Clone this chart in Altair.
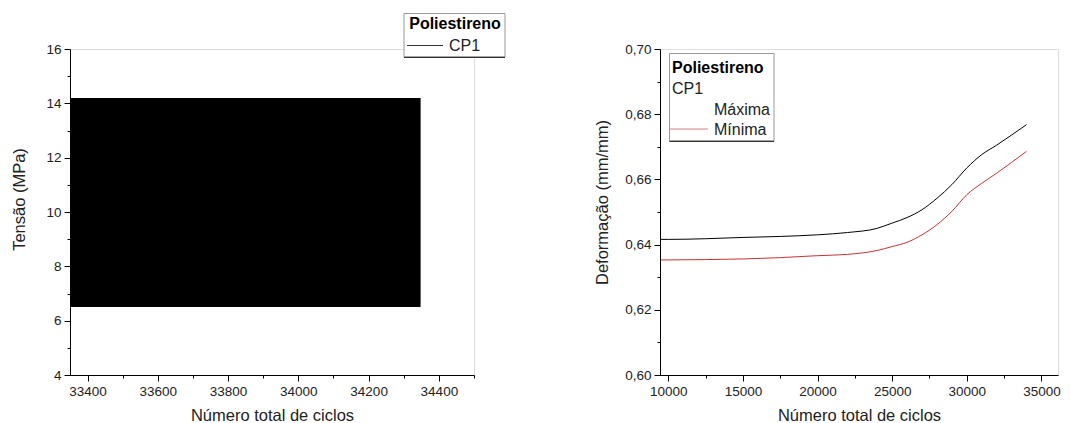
import altair as alt
import pandas as pd

# ---------- data ----------
# Left panel: dense oscillating stress signal, drawn as its envelope band
band_cycle_start = [33350]
band_cycle_end = [34348]
band_tension_min = [6.5]
band_tension_max = [14.2]

# Right panel: strain envelope vs cycles
cycles = [9500, 10000, 12500, 15000, 17500, 20000, 22000, 24000, 25000, 26000,
          27000, 28000, 29000, 30000, 31000, 32000, 33000, 34000]
def_max = [0.6416, 0.6416, 0.6418, 0.6422, 0.6425, 0.6430, 0.6437, 0.6450, 0.6466, 0.6483,
           0.6507, 0.6542, 0.6584, 0.6635, 0.6676, 0.6705, 0.6736, 0.6768]
def_min = [0.6353, 0.6353, 0.6354, 0.6356, 0.6360, 0.6366, 0.6370, 0.6382, 0.6394, 0.6407,
           0.6430, 0.6461, 0.6502, 0.6553, 0.6588, 0.6619, 0.6652, 0.6686]

left_x_ticks = list(range(33400, 34501, 100))
left_y_ticks = list(range(4, 17, 1))
right_x_ticks = list(range(10000, 35001, 2500))
right_y_ticks = [round(0.60 + 0.01 * i, 2) for i in range(11)]

FONT = "Liberation Sans"
TXT = "#222222"

band_df = pd.DataFrame({"start": band_cycle_start, "end": band_cycle_end,
                        "lo": band_tension_min, "hi": band_tension_max})
lines_df = pd.DataFrame({
    "ciclos": cycles * 2,
    "def": def_max + def_min,
    "serie": ["Máxima"] * len(cycles) + ["Mínima"] * len(cycles),
})

W1, W2, H = 404, 398, 326


def axis(values, test, title, lbl_expr, tx, ty, orient_y=False):
    kw = dict(
        values=values,
        title=title,
        grid=False,
        domainColor="black",
        tickColor="black",
        tickSize={"condition": {"test": test, "value": 6}, "value": 3},
        labelExpr=lbl_expr,
        labelFont=FONT, labelFontSize=13.5, labelColor=TXT,
        titleFont=FONT, titleFontSize=16.5, titleFontWeight="normal", titleColor=TXT,
        labelPadding=3,
        titleX=tx, titleY=ty,
        titleAlign="center",
        titleBaseline="middle",
    )
    if orient_y:
        kw["titleAngle"] = 270
    return alt.Axis(**kw)


# ---------- left panel ----------
lx = alt.X("start:Q", scale=alt.Scale(domain=[33350, 34500], nice=False, zero=False),
           axis=axis(left_x_ticks, "datum.value % 200 === 0", "Número total de ciclos",
                     "datum.value % 200 === 0 ? format(datum.value, 'd') : ''", W1 / 2, 40))
ly = alt.Y("lo:Q", scale=alt.Scale(domain=[4, 16], nice=False, zero=False),
           axis=axis(left_y_ticks, "datum.value % 2 === 0", "Tensão (MPa)",
                     "datum.value % 2 === 0 ? format(datum.value, 'd') : ''", -51, 150, True))

band = alt.Chart(band_df).mark_rect(color="black").encode(
    x=lx, x2="end:Q", y=ly, y2="hi:Q")

legL_box = alt.Chart(band_df).mark_rect(fill="white", stroke="#999999", strokeWidth=1).encode(
    x=alt.value(334), x2=alt.value(435), y=alt.value(-35.5), y2=alt.value(8))
legL_bottom = alt.Chart(band_df).mark_rule(color="#333333", strokeWidth=1.2).encode(
    x=alt.value(334), x2=alt.value(435), y=alt.value(8.3))
legL_title = alt.Chart(band_df).mark_text(
    text="Poliestireno", font=FONT, fontSize=16, fontWeight="bold", color="black",
    align="center", baseline="alphabetic").encode(x=alt.value(385), y=alt.value(-20))
legL_sym = alt.Chart(band_df).mark_rule(color="black", strokeWidth=0.8).encode(
    x=alt.value(337), x2=alt.value(373), y=alt.value(-3.5))
legL_lab = alt.Chart(band_df).mark_text(
    text="CP1", font=FONT, fontSize=16, color=TXT, align="left",
    baseline="alphabetic").encode(x=alt.value(379), y=alt.value(2))

left = alt.layer(band, legL_box, legL_bottom, legL_title, legL_sym, legL_lab).properties(
    width=W1, height=H)

# ---------- right panel ----------
rx = alt.X("ciclos:Q", scale=alt.Scale(domain=[9444, 36111], nice=False, zero=False),
           axis=axis(right_x_ticks, "datum.value % 5000 === 0", "Número total de ciclos",
                     "datum.value % 5000 === 0 ? format(datum.value, 'd') : ''", W2 / 2, 40))
ry = alt.Y("def:Q", scale=alt.Scale(domain=[0.60, 0.70], nice=False, zero=False),
           axis=axis(right_y_ticks, "round(datum.value * 100) % 2 === 0", "Deformação (mm/mm)",
                     "round(datum.value * 100) % 2 === 0 ? replace(format(datum.value, '.2f'), '.', ',') : ''",
                     -58, 153, True))

lines = alt.Chart(lines_df).mark_line(strokeWidth=1, interpolate="monotone").encode(
    x=rx, y=ry,
    color=alt.Color("serie:N", scale=alt.Scale(domain=["Máxima", "Mínima"],
                                                range=["black", "#c83232"]), legend=None),
    detail="serie:N")

legR_box = alt.Chart(band_df).mark_rect(fill="white", stroke="#999999", strokeWidth=1).encode(
    x=alt.value(9.5), x2=alt.value(114), y=alt.value(4.5), y2=alt.value(92))
legR_bottom = alt.Chart(band_df).mark_rule(color="#333333", strokeWidth=1.2).encode(
    x=alt.value(9.5), x2=alt.value(114), y=alt.value(92.3))
legR_title = alt.Chart(band_df).mark_text(
    text="Poliestireno", font=FONT, fontSize=16, fontWeight="bold", color="black",
    align="left", baseline="alphabetic").encode(x=alt.value(12), y=alt.value(24))
legR_cp = alt.Chart(band_df).mark_text(
    text="CP1", font=FONT, fontSize=16, color=TXT, align="left",
    baseline="alphabetic").encode(x=alt.value(12), y=alt.value(45))
legR_max = alt.Chart(band_df).mark_text(
    text="Máxima", font=FONT, fontSize=16, color=TXT, align="left",
    baseline="alphabetic").encode(x=alt.value(54), y=alt.value(65.5))
legR_min = alt.Chart(band_df).mark_text(
    text="Mínima", font=FONT, fontSize=16, color=TXT, align="left",
    baseline="alphabetic").encode(x=alt.value(54), y=alt.value(85.5))
legR_sym_min = alt.Chart(band_df).mark_rule(color="#d06060", strokeWidth=0.8).encode(
    x=alt.value(10), x2=alt.value(48), y=alt.value(80))

right = alt.layer(lines, legR_box, legR_bottom, legR_title, legR_cp, legR_max, legR_min,
                  legR_sym_min).properties(width=W2, height=H)

chart = alt.hconcat(left, right, spacing=186, bounds="flush").properties(
    padding={"left": 10, "top": 12, "right": 5, "bottom": 5}
).configure_view(stroke=None).configure(background="white")

chart.save("out.html", embed_options={"renderer": "svg", "actions": False})
